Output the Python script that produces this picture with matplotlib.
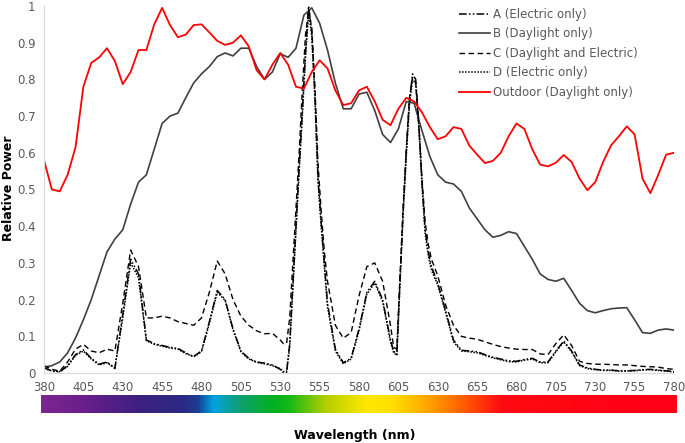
import numpy as np
import matplotlib
matplotlib.use("Agg")
import matplotlib.pyplot as plt
from matplotlib.colors import LinearSegmentedColormap

# wavelengths (nm) for the smooth daylight curves
wl_day = list(range(380, 781, 5))

outdoor = [0.58, 0.50, 0.495, 0.54, 0.615, 0.78, 0.845, 0.86, 0.885, 0.85,
           0.787, 0.82, 0.88, 0.88, 0.95, 0.995, 0.948, 0.915, 0.922, 0.948,
           0.95, 0.928, 0.905, 0.894, 0.90, 0.92, 0.89, 0.825, 0.80, 0.84,
           0.872, 0.84, 0.78, 0.775, 0.82, 0.852, 0.83, 0.77, 0.73, 0.735,
           0.77, 0.78, 0.74, 0.69, 0.675, 0.72, 0.75, 0.74, 0.71, 0.67,
           0.637, 0.645, 0.67, 0.665, 0.62, 0.595, 0.572, 0.578, 0.60, 0.645,
           0.68, 0.665, 0.61, 0.568, 0.563, 0.573, 0.594, 0.575, 0.53, 0.498,
           0.52, 0.575, 0.62, 0.645, 0.672, 0.65, 0.53, 0.49, 0.54, 0.595,
           0.60]

b_day = [0.016, 0.02, 0.03, 0.055, 0.095, 0.145, 0.20, 0.265, 0.33, 0.365,
         0.39, 0.46, 0.52, 0.54, 0.61, 0.68, 0.70, 0.708, 0.75, 0.79,
         0.815, 0.835, 0.862, 0.872, 0.864, 0.885, 0.885, 0.835, 0.80, 0.82,
         0.87, 0.86, 0.885, 0.975, 0.995, 0.953, 0.88, 0.79, 0.72, 0.72,
         0.76, 0.765, 0.715, 0.65, 0.628, 0.665, 0.74, 0.735, 0.66, 0.59,
         0.54, 0.52, 0.515, 0.495, 0.45, 0.42, 0.39, 0.37, 0.375, 0.385,
         0.38, 0.345, 0.31, 0.27, 0.255, 0.25, 0.258, 0.225, 0.19, 0.17,
         0.164, 0.17, 0.175, 0.177, 0.178, 0.145, 0.11, 0.108, 0.117, 0.12,
         0.117]

# wavelengths for the lamp spectra (finer around the two narrow peaks)
wl_lamp = (list(range(380, 531, 5)) + list(range(532, 561, 2))
           + list(range(565, 601, 5)) + list(range(602, 627, 2))
           + list(range(630, 781, 5)))

a_elec = [0.015, 0.005, 0.003, 0.02, 0.05, 0.063, 0.04, 0.024, 0.03, 0.012,
          0.16, 0.31, 0.27, 0.09, 0.08, 0.075, 0.07, 0.067, 0.055, 0.045,
          0.06, 0.14, 0.225, 0.2, 0.12, 0.06, 0.04, 0.03, 0.027, 0.022,
          0.01,
          0.0, 0.0, 0.08, 0.24, 0.40, 0.56, 0.71, 0.87, 1.0, 0.93,
          0.76, 0.53, 0.41, 0.30, 0.19,
          0.065, 0.028, 0.04, 0.12, 0.22, 0.25, 0.2, 0.09,
          0.06, 0.05, 0.25, 0.44, 0.6, 0.74, 0.815, 0.80, 0.68, 0.52,
          0.39, 0.33, 0.29,
          0.245, 0.17, 0.09, 0.062, 0.06, 0.058, 0.05, 0.043, 0.038, 0.033,
          0.032, 0.037, 0.04, 0.03, 0.03, 0.06, 0.087, 0.06, 0.022, 0.014,
          0.01, 0.008, 0.008, 0.006, 0.006, 0.007, 0.009, 0.01, 0.008, 0.006,
          0.004]

c_mix = [0.02, 0.01, 0.005, 0.03, 0.065, 0.078, 0.06, 0.055, 0.065, 0.06,
         0.19, 0.335, 0.29, 0.15, 0.15, 0.155, 0.15, 0.14, 0.135, 0.13,
         0.15, 0.22, 0.305, 0.27, 0.2, 0.155, 0.13, 0.115, 0.107, 0.108,
         0.09,
         0.08, 0.08, 0.15, 0.3, 0.45, 0.6, 0.77, 0.92, 0.99, 0.94,
         0.78, 0.57, 0.44, 0.33, 0.25,
         0.13, 0.095, 0.11, 0.21, 0.29, 0.30, 0.25, 0.13,
         0.07, 0.065, 0.26, 0.45, 0.61, 0.75, 0.805, 0.79, 0.67, 0.53,
         0.41, 0.35, 0.31,
         0.265, 0.185, 0.13, 0.1, 0.095, 0.092, 0.085, 0.078, 0.072, 0.068,
         0.065, 0.064, 0.064, 0.052, 0.05, 0.08, 0.104, 0.075, 0.032, 0.026,
         0.024, 0.024, 0.023, 0.022, 0.022, 0.02, 0.018, 0.017, 0.016, 0.012,
         0.01]

d_elec = [0.012, 0.006, 0.004, 0.018, 0.048, 0.06, 0.038, 0.022, 0.028, 0.014,
          0.15, 0.30, 0.26, 0.088, 0.078, 0.073, 0.068, 0.065, 0.053, 0.044,
          0.058, 0.135, 0.22, 0.198, 0.118, 0.058, 0.038, 0.029, 0.025, 0.02,
          0.012,
          0.004, 0.004, 0.07, 0.23, 0.39, 0.55, 0.70, 0.86, 0.98, 0.92,
          0.75, 0.52, 0.40, 0.29, 0.18,
          0.06, 0.025, 0.038, 0.115, 0.215, 0.245, 0.195, 0.085,
          0.055, 0.048, 0.24, 0.43, 0.59, 0.73, 0.80, 0.79, 0.67, 0.51,
          0.38, 0.32, 0.28,
          0.24, 0.165, 0.085, 0.06, 0.058, 0.055, 0.048, 0.041, 0.036, 0.031,
          0.03, 0.035, 0.038, 0.028, 0.028, 0.058, 0.085, 0.058, 0.02, 0.012,
          0.009, 0.007, 0.007, 0.005, 0.005, 0.006, 0.008, 0.009, 0.007, 0.005,
          0.003]

# colour bar stops under the axis
spec_wl = [380, 405, 440, 470, 478, 488, 505, 525, 535, 560, 585, 600, 620, 645, 670, 780]
spec_col = ["#7b2590", "#6a1f8c", "#3f1f80", "#2a2b85", "#1a3c92", "#00a2e2",
            "#10a070", "#00b020", "#10b818", "#b8d000", "#ffe800", "#ffe000",
            "#ffb000", "#ff6000", "#ff0a10", "#ff0018"]

W, H = 685, 443
fig = plt.figure(figsize=(W / 100, H / 100), dpi=100)
ax = fig.add_axes([44 / W, 1 - 373 / H, 630 / W, 367 / H])

ax.plot(wl_lamp, a_elec, color="black", lw=1.1,
        linestyle=(0, (5, 1.5, 1, 1.5, 1, 1.5)), label="A (Electric only)")
ax.plot(wl_day, b_day, color="#404040", lw=1.2, label="B (Daylight only)")
ax.plot(wl_lamp, c_mix, color="black", lw=1.0,
        linestyle=(0, (4, 2.5)), label="C (Daylight and Electric)")
ax.plot(wl_lamp, d_elec, color="black", lw=1.1,
        linestyle=(0, (1, 1)), label="D (Electric only)")
ax.plot(wl_day, outdoor, color="#ff0000", lw=1.3, label="Outdoor (Daylight only)")

ax.set_xlim(380, 780)
ax.set_ylim(0, 1)
ax.set_xticks(range(380, 781, 25))
ax.set_yticks(np.arange(0, 1.01, 0.1))
ax.set_yticklabels(["0", "0.1", "0.2", "0.3", "0.4", "0.5", "0.6", "0.7", "0.8", "0.9", "1"])
ax.tick_params(length=0, labelsize=8.5, labelcolor="#595959", pad=6)
for s in ["top", "right"]:
    ax.spines[s].set_visible(False)
for s in ["left", "bottom"]:
    ax.spines[s].set_color("#d9d9d9")
ax.set_facecolor("none")

fig.text(9 / W, 1 - 188 / H, "Relative Power", rotation=90, ha="center", va="center",
         fontsize=9, fontweight="bold")

fig.legend(loc="upper left", bbox_to_anchor=(453 / W, 1 - 2 / H), frameon=False,
           fontsize=8.5, labelcolor="#595959", handlelength=2.6, handletextpad=0.3,
           labelspacing=0.55, borderpad=0)

# spectrum strip
cmap = LinearSegmentedColormap.from_list(
    "spec", [((w - 380) / 400, c) for w, c in zip(spec_wl, spec_col)])
cax = fig.add_axes([41 / W, 1 - 413 / H, 636 / W, 18 / H])
cax.imshow(np.linspace(0, 1, 512)[None, :], aspect="auto", cmap=cmap)
cax.axis("off")

fig.text(355 / W, 1 - 436 / H, "Wavelength (nm)", ha="center", va="center",
         fontsize=9, fontweight="bold")

fig.savefig("out.png", dpi=100)
plt.close(fig)
